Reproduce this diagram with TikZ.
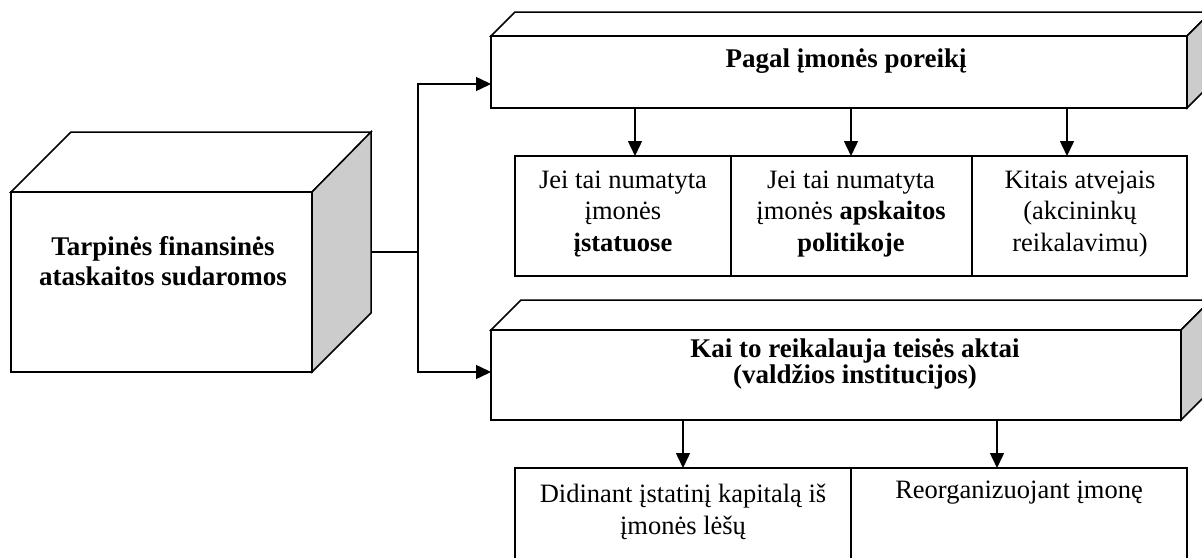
\documentclass[tikz,border=0pt]{standalone}
\usepackage{fontspec}
\setmainfont{Liberation Serif}
\usetikzlibrary{arrows.meta}
\definecolor{sidegray}{RGB}{204,204,204}
\begin{document}
\begin{tikzpicture}[x=1pt,y=-1pt, line width=1.5pt, line join=miter,
  face/.style={draw, fill=white, anchor=north west, inner sep=0pt, outer sep=0pt},
  topface/.style={draw, fill=white},
  sideface/.style={draw, fill=sidegray},
  arr/.style={-{Triangle[length=15pt,width=14pt]}},
  reg/.style={font=\fontsize{26.5}{31.5}\selectfont, align=center, inner sep=0pt},
  bld/.style={font=\fontsize{27}{30}\selectfont\bfseries, align=center, inner sep=0pt}]
\useasboundingbox (0,0) rectangle (1202,557);
\clip (0,0) rectangle (1202,557);
% left cube
\draw[topface] (11,192) -- (71,132) -- (371,132) -- (312,192) -- cycle;
\draw[sideface] (312,192) -- (371,132) -- (371,313) -- (312,372) -- cycle;
\node[face, minimum width=301pt, minimum height=180pt] (L) at (11,192) {};
\node[bld] (Lt) at (163,261) {Tarpinės finansinės\\ataskaitos sudaromos};
% top box
\draw[topface] (491,36) -- (515,12) -- (1211,12) -- (1187,36) -- cycle;
\draw[sideface] (1187,36) -- (1211,12) -- (1211,84) -- (1187,108) -- cycle;
\node[face, minimum width=696pt, minimum height=72pt] (P) at (491,36) {};
\node[bld] (Pt) at (846,61) {Pagal įmonės poreikį};
% bottom box
\draw[topface] (491,330) -- (521,300) -- (1211,300) -- (1181,330) -- cycle;
\draw[sideface] (1181,330) -- (1211,300) -- (1211,390) -- (1181,420) -- cycle;
\node[face, minimum width=690pt, minimum height=90pt] (K) at (491,330) {};
\node[bld, font=\fontsize{27}{26}\selectfont\bfseries] (Kt) at (855,364) {Kai to reikalauja teisės aktai\\(valdžios institucijos)};
% sub boxes (top)
\node[face, minimum width=216pt, minimum height=120pt] (A1) at (515,156) {};
\node[face, minimum width=241pt, minimum height=120pt] (A2) at (731,156) {};
\node[face, minimum width=215pt, minimum height=120pt] (A3) at (972,156) {};
\node[reg] (A1t) at (623,214) {Jei tai numatyta\\įmonės\\\textbf{įstatuose}};
\node[reg] (A2t) at (851,214) {Jei tai numatyta\\įmonės \textbf{apskaitos}\\\textbf{politikoje}};
\node[reg] (A3t) at (1080,214) {Kitais atvejais\\(akcininkų\\reikalavimu)};
% sub boxes (bottom)
\node[face, minimum width=336pt, minimum height=110pt] (B1) at (515,468) {};
\node[face, minimum width=336pt, minimum height=110pt] (B2) at (851,468) {};
\node[reg] (B1t) at (683,512) {Didinant įstatinį kapitalą iš\\įmonės lėšų};
\node[reg, anchor=north] (B2t) at (1019,480) {Reorganizuojant įmonę};
% connectors
\coordinate (Lr) at (371,252);
\coordinate (J) at (418,252);
\coordinate (Pin) at (P.west |- 0,84);
\coordinate (Kin) at (K.west |- 0,372);
\draw (Lr) -- (J);
\draw[arr] (J) |- (Pin);
\draw[arr] (J) |- (Kin);
\draw[arr] (P.south -| 635,0) -- (A1.north -| 635,0);
\draw[arr] (P.south -| 851,0) -- (A2.north -| 851,0);
\draw[arr] (P.south -| 1067,0) -- (A3.north -| 1067,0);
\draw[arr] (K.south -| 683,0) -- (B1.north -| 683,0);
\draw[arr] (K.south -| 997,0) -- (B2.north -| 997,0);
\end{tikzpicture}
\end{document}
